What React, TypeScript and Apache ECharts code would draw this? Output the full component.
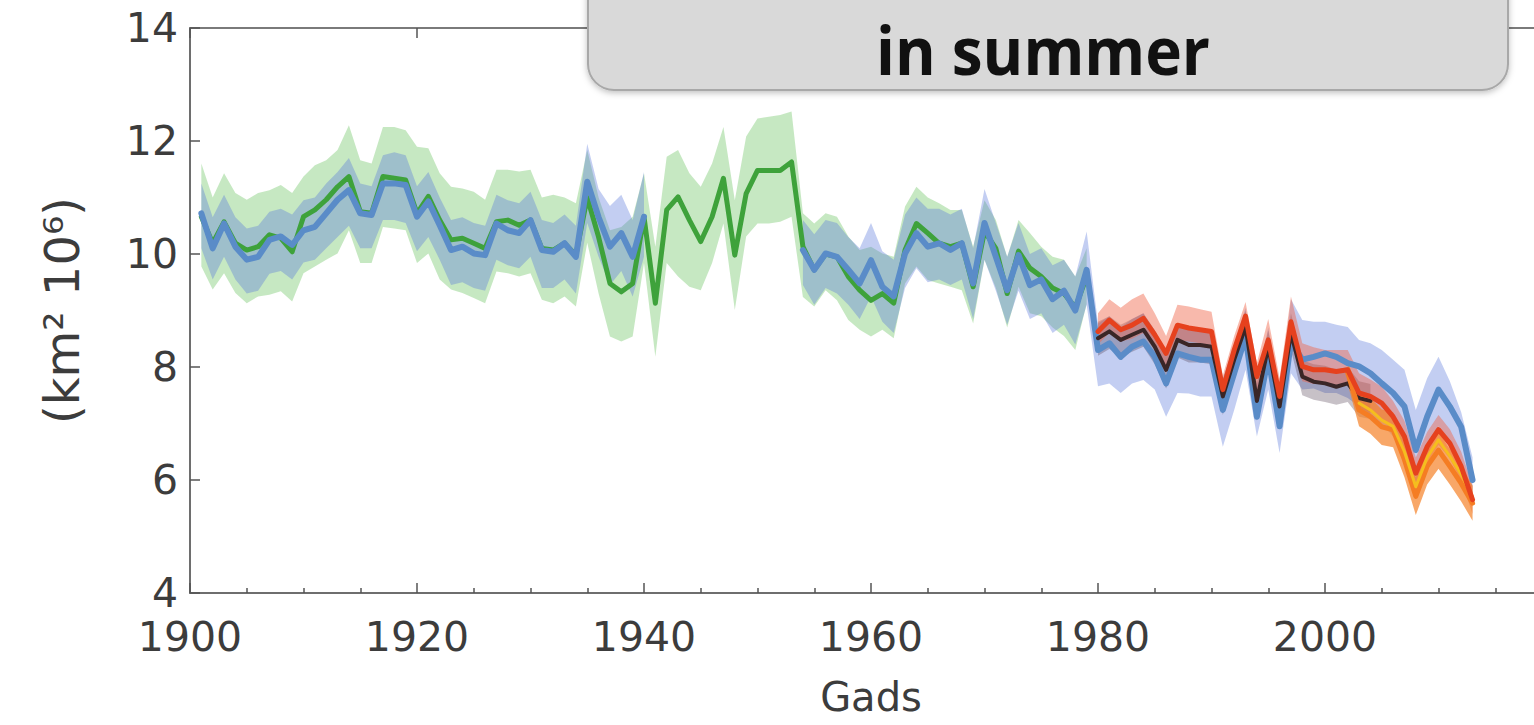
import React, { useEffect, useRef } from "react";
import * as echarts from "echarts";

// First year of each record
const BLUE_START = 1901;
const GREEN_START = 1901;
const SAT_START = 1980;
const ORANGE_START = 2002;
const YELLOW_START = 2003;

// Blue reconstruction (1901-2013), gap 1941-1953
const blueMean = [
  10.72, 10.1, 10.54, 10.13, 9.9, 9.95, 10.25, 10.31, 10.16, 10.42,
  10.48, 10.72, 10.96, 11.13, 10.72, 10.69, 11.25, 11.25, 11.22, 10.66,
  10.93, 10.51, 10.07, 10.13, 10.01, 9.98, 10.54, 10.42, 10.37, 10.6,
  10.07, 10.04, 10.19, 9.95, 11.28, 10.65, 10.13, 10.37, 9.95, 10.66,
  null, null, null, null, null, null, null, null, null, null, null, null, null,
  10.07, 9.72, 10.01, 9.95, 9.72, 9.48, 9.89, 9.42, 9.25, 10.01,
  10.37, 10.13, 10.19, 10.07, 10.19, 9.48, 10.55, 9.95, 9.36, 9.98,
  9.45, 9.55, 9.2, 9.35, 9.0, 9.72, 8.3, 8.42, 8.18, 8.36,
  8.45, 8.18, 7.71, 8.24, 8.18, 8.13, 8.13, 7.24, 7.89, 8.54,
  7.12, 8.18, 6.95, 8.45, 8.13, 8.18, 8.24, 8.18, 8.07, 8.01,
  7.89, 7.71, 7.54, 7.3, 6.53, 7.12, 7.6, 7.3, 6.94, 6.0,
];
const blueHigh = [
  11.25, 10.65, 11.05, 10.65, 10.45, 10.5, 10.75, 10.8, 10.7, 10.95,
  11.0, 11.25, 11.45, 11.7, 11.25, 11.2, 11.75, 11.8, 11.75, 11.2,
  11.45, 11.0, 10.6, 10.65, 10.55, 10.5, 11.05, 10.95, 10.9, 11.1,
  10.6, 10.55, 10.7, 10.5, 11.95, 11.15, 10.85, 11.05, 10.6, 11.45,
  null, null, null, null, null, null, null, null, null, null, null, null, null,
  10.6, 10.35, 10.6, 10.55, 10.3, 10.1, 10.55, 10.05, 9.9, 10.7,
  11.0, 10.8, 10.8, 10.7, 10.8, 10.1, 11.15, 10.55, 9.95, 10.55,
  10.0, 10.1, 9.8, 9.9, 9.6, 10.4, 8.77, 8.9, 8.7, 8.85,
  8.95, 8.65, 8.25, 8.75, 8.7, 8.65, 8.65, 7.8, 8.4, 9.05,
  7.7, 8.7, 7.5, 9.2, 8.83, 8.8, 8.8, 8.75, 8.71, 8.48,
  8.42, 8.3, 8.13, 7.95, 7.24, 7.8, 8.18, 7.75, 7.2, 6.4,
];
const blueLow = [
  10.1, 9.55, 9.95, 9.55, 9.3, 9.35, 9.65, 9.7, 9.55, 9.85,
  9.9, 10.1, 10.3, 10.5, 10.1, 10.1, 10.6, 10.6, 10.55, 10.05,
  10.3, 9.9, 9.45, 9.5, 9.4, 9.35, 9.9, 9.8, 9.75, 9.95,
  9.4, 9.4, 9.55, 9.3, 10.55, 9.95, 9.45, 9.7, 9.25, 9.95,
  null, null, null, null, null, null, null, null, null, null, null, null, null,
  9.45, 9.1, 9.4, 9.3, 9.1, 8.85, 9.25, 8.8, 8.6, 9.4,
  9.75, 9.5, 9.55, 9.45, 9.55, 8.85, 9.9, 9.35, 8.75, 9.35,
  8.85, 8.95, 8.6, 8.75, 8.4, 9.1, 7.66, 7.71, 7.54, 7.71,
  7.77, 7.6, 7.12, 7.54, 7.53, 7.48, 7.48, 6.59, 7.24, 7.95,
  6.77, 7.6, 6.48, 7.89, 7.6, 7.62, 7.54, 7.54, 7.45, 7.3,
  7.12, 7.0, 6.77, 6.53, 5.75, 6.4, 6.95, 6.6, 6.3, 5.6,
];

// Green reconstruction (1901-1979)
const greenMean = [
  10.66, 10.19, 10.57, 10.19, 10.07, 10.13, 10.34, 10.28, 10.04, 10.66,
  10.78, 10.96, 11.19, 11.37, 10.75, 10.72, 11.37, 11.34, 11.31, 10.72,
  11.02, 10.6, 10.25, 10.28, 10.19, 10.1, 10.57, 10.6, 10.51, 10.6,
  10.1, 10.07, 10.19, 9.98, 11.0, 10.3, 9.48, 9.33, 9.48, 10.66,
  9.13, 10.78, 11.01, 10.6, 10.22, 10.66, 11.34, 9.98, 11.07, 11.48,
  11.48, 11.48, 11.63, 10.13, 9.72, 10.0, 9.95, 9.6, 9.36, 9.18,
  9.3, 9.13, 10.07, 10.54, 10.37, 10.19, 10.13, 10.19, 9.42, 10.4,
  10.1, 9.3, 10.05, 9.75, 9.6, 9.4, 9.3, 9.05, 9.6,
];
const greenHigh = [
  11.6, 11.0, 11.43, 11.08, 10.96, 11.08, 11.13, 11.22, 11.08, 11.37,
  11.57, 11.66, 11.84, 12.28, 11.66, 11.6, 12.25, 12.25, 12.19, 11.9,
  11.87, 11.43, 11.19, 11.16, 11.1, 10.96, 11.49, 11.49, 11.46, 11.49,
  11.0, 11.05, 11.0, 10.9, 11.84, 11.0, 10.42, 10.48, 10.66, 11.43,
  10.13, 11.72, 11.84, 11.43, 11.19, 11.6, 12.25, 10.95, 12.08, 12.4,
  12.43, 12.46, 12.52, 10.72, 10.54, 10.72, 10.66, 10.31, 10.07, 10.13,
  10.01, 9.95, 10.84, 11.19, 11.0, 10.9, 10.78, 10.78, 10.13, 10.95,
  10.6, 9.95, 10.6, 10.37, 10.13, 9.95, 9.9, 9.6, 10.1,
];
const greenLow = [
  9.78, 9.37, 9.66, 9.31, 9.13, 9.25, 9.28, 9.34, 9.16, 9.66,
  9.78, 9.9, 10.01, 10.42, 9.84, 9.84, 10.48, 10.45, 10.42, 9.84,
  10.01, 9.55, 9.37, 9.31, 9.22, 9.13, 9.69, 9.66, 9.6, 9.66,
  9.19, 9.13, 9.25, 9.07, 10.2, 9.3, 8.54, 8.45, 8.54, 9.84,
  8.18, 9.84, 9.6, 9.42, 9.36, 9.84, 10.54, 9.01, 10.31, 10.54,
  10.54, 10.57, 10.66, 9.24, 9.07, 9.36, 9.18, 8.83, 8.66, 8.54,
  8.66, 8.51, 9.48, 9.78, 9.54, 9.48, 9.42, 9.36, 8.77, 9.9,
  9.4, 8.7, 9.42, 8.95, 8.9, 8.7, 8.55, 8.3, 9.12,
];

// Satellite-era records
const darkMean = [
  8.51, 8.63, 8.48, 8.57, 8.66, 8.36, 7.95, 8.48, 8.39, 8.39,
  8.36, 7.48, 8.13, 8.71, 7.4, 8.36, 7.3, 8.6, 7.83, 7.74,
  7.71, 7.65, 7.71, 7.45, 7.4,
];
const darkHigh = [
  8.8, 8.9, 8.75, 8.85, 8.95, 8.65, 8.25, 8.78, 8.68, 8.66,
  8.62, 7.78, 8.4, 9.0, 7.75, 8.65, 7.6, 8.95, 8.12, 8.05,
  8.02, 7.95, 8.0, 7.75, 7.7,
];
const darkLow = [
  8.2, 8.32, 8.18, 8.27, 8.36, 8.05, 7.62, 8.17, 8.08, 8.08,
  8.05, 7.15, 7.82, 8.4, 7.05, 8.05, 6.98, 8.3, 7.5, 7.42,
  7.38, 7.33, 7.38, 7.12, 7.08,
];
const redMean = [
  8.63, 8.83, 8.66, 8.74, 8.86, 8.57, 8.24, 8.74, 8.69, 8.66,
  8.63, 7.6, 8.3, 8.9, 7.83, 8.48, 7.48, 8.8, 8.01, 7.95,
  7.95, 7.92, 7.95, 7.54, 7.48, 7.36, 7.12, 6.77, 6.12, 6.59,
  6.89, 6.65, 6.24, 5.65,
];
const redHigh = [
  8.95, 9.2, 9.05, 9.2, 9.3, 8.95, 8.55, 9.1, 9.07, 9.02,
  8.98, 7.85, 8.55, 9.15, 8.07, 8.85, 7.8, 9.25, 8.42, 8.35,
  8.3, 8.3, 8.3, 7.89, 7.78, 7.65, 7.4, 7.05, 6.4, 6.85,
  7.15, 6.9, 6.5, 5.9,
];
const redLow = [
  8.4, 8.6, 8.45, 8.5, 8.6, 8.3, 7.98, 8.48, 8.45, 8.42,
  8.38, 7.35, 8.05, 8.62, 7.55, 8.2, 7.2, 8.45, 7.75, 7.7,
  7.7, 7.67, 7.7, 7.28, 7.2, 7.08, 6.85, 6.5, 5.85, 6.3,
  6.62, 6.38, 5.98, 5.4,
];
const orangeMean = [7.9, 7.24, 7.12, 6.94, 6.89, 6.36, 5.71, 6.24, 6.53, 6.24, 5.94, 5.59];
const orangeHigh = [8.1, 7.55, 7.45, 7.25, 7.2, 6.7, 6.05, 6.55, 6.85, 6.55, 6.25, 5.9];
const orangeLow = [7.7, 6.95, 6.82, 6.62, 6.58, 6.05, 5.38, 5.92, 6.2, 5.92, 5.62, 5.28];
const yellowMean = [7.36, 7.24, 7.06, 6.95, 6.5, 5.88, 6.4, 6.71, 6.42, 6.1, 5.7];

// Axis ticks
const xTicks = { min: 1900, max: 2020, step: 20 };
const yTicks = { min: 4, max: 14, step: 2 };

const FONT = '"DejaVu Sans", "Liberation Sans", sans-serif';
const TEXT_COLOR = "#3c3c3c";

type Num = number | null;

function pairs(start: number, values: Num[]) {
  return values.map((v, i) => [start + i, v]);
}

function lineSeries(name: string, start: number, values: Num[], color: string, width: number, z: number) {
  return {
    type: "line",
    name,
    data: pairs(start, values),
    xAxisIndex: 0,
    yAxisIndex: 0,
    symbol: "none",
    showSymbol: false,
    connectNulls: false,
    silent: true,
    z,
    lineStyle: { color, width, cap: "round", join: "round" },
    emphasis: { disabled: true },
  };
}

// Uncertainty envelope drawn as one polygon per unbroken run of years
function bandSeries(name: string, start: number, low: Num[], high: Num[], fill: string, z: number) {
  const segments: number[][] = [];
  let current: number[] | null = null;
  low.forEach((v, i) => {
    if (v == null || high[i] == null) {
      current = null;
      return;
    }
    if (!current) {
      current = [];
      segments.push(current);
    }
    current.push(i);
  });
  return {
    type: "custom",
    name,
    xAxisIndex: 0,
    yAxisIndex: 0,
    silent: true,
    z,
    data: segments.map((seg) => [start + seg[0], low[seg[0]]]),
    renderItem: (params: any, api: any) => {
      const seg = segments[params.dataIndex];
      const top = seg.map((i) => api.coord([start + i, high[i]]));
      const bottom = seg
        .slice()
        .reverse()
        .map((i) => api.coord([start + i, low[i]]));
      return {
        type: "polygon",
        shape: { points: top.concat(bottom) },
        style: { fill, stroke: null },
      };
    },
  };
}

const tickLine = { color: "#555555", width: 1.5 };

const option = {
  animation: false,
  backgroundColor: "#ffffff",
  textStyle: { fontFamily: FONT },
  grid: { left: 190, top: 28, right: -18, bottom: 132, show: false, outerBoundsMode: "none" },
  xAxis: [
    {
      type: "value",
      position: "bottom",
      min: xTicks.min,
      max: xTicks.max,
      interval: xTicks.step,
      axisLine: { show: true, onZero: false, lineStyle: { color: "#6e6e6e", width: 2 } },
      axisTick: { show: true, inside: true, length: 10, lineStyle: tickLine },
      minorTick: { show: true, splitNumber: 4, length: 5, lineStyle: tickLine },
      splitLine: { show: false },
      axisLabel: {
        fontSize: 41,
        lineHeight: 32,
        color: TEXT_COLOR,
        margin: 28,
        fontFamily: FONT,
        formatter: (v: number) => (v >= xTicks.max ? "" : String(v)),
      },
      name: "Gads",
      nameLocation: "middle",
      nameGap: 89,
      nameTextStyle: { fontSize: 40, lineHeight: 30, color: TEXT_COLOR, fontFamily: FONT },
    },
    {
      type: "value",
      position: "top",
      min: xTicks.min,
      max: xTicks.max,
      interval: xTicks.step,
      axisLine: { show: true, onZero: false, lineStyle: { color: "#7a7a7a", width: 2 } },
      axisTick: { show: true, inside: true, length: 10, lineStyle: tickLine },
      axisLabel: { show: false },
      splitLine: { show: false },
    },
  ],
  yAxis: {
    type: "value",
    min: yTicks.min,
    max: yTicks.max,
    interval: yTicks.step,
    axisLine: { show: true, onZero: false, lineStyle: { color: "#6e6e6e", width: 2 } },
    axisTick: { show: true, inside: true, length: 10, lineStyle: tickLine },
    splitLine: { show: false },
    axisLabel: { fontSize: 41, lineHeight: 30, color: TEXT_COLOR, margin: 12, fontFamily: FONT },
    name: "(km² 10⁶)",
    nameLocation: "middle",
    nameRotate: 90,
    nameGap: 104,
    nameTextStyle: { fontSize: 48, color: TEXT_COLOR, fontFamily: FONT },
  },
  graphic: [
    {
      type: "rect",
      z: 100,
      shape: { x: 588, y: -40, width: 920, height: 130, r: 26 },
      style: {
        fill: "#d9d9d9",
        stroke: "#a8a8a8",
        lineWidth: 2,
        shadowBlur: 6,
        shadowOffsetY: 2,
        shadowColor: "rgba(0,0,0,0.25)",
      },
    },
    {
      type: "text",
      z: 101,
      x: 1043,
      y: 50,
      scaleX: 0.94,
      style: {
        text: "in summer",
        fontFamily: '"Open Sans", "Noto Sans", sans-serif',
        fontWeight: "bold",
        fontSize: 66,
        fill: "#111111",
        textAlign: "center",
        textVerticalAlign: "middle",
        align: "center",
        verticalAlign: "middle",
      },
    },
  ],
  series: [
    bandSeries("green band", GREEN_START, greenLow, greenHigh, "rgba(120,200,110,0.42)", 1),
    bandSeries("blue band", BLUE_START, blueLow, blueHigh, "rgba(90,120,220,0.36)", 2),
    bandSeries("dark band", SAT_START, darkLow, darkHigh, "rgba(70,50,70,0.3)", 3),
    bandSeries("red band", SAT_START, redLow, redHigh, "rgba(240,100,70,0.45)", 4),
    bandSeries("orange band", ORANGE_START, orangeLow, orangeHigh, "rgba(245,130,40,0.7)", 5),
    lineSeries("green", GREEN_START, greenMean, "#3ea23b", 5, 10),
    lineSeries("blue", BLUE_START, blueMean, "#5a8cc8", 6, 11),
    lineSeries("dark", SAT_START, darkMean, "#3a2626", 4, 12),
    lineSeries("orange", ORANGE_START, orangeMean, "#f57d23", 5, 13),
    lineSeries("yellow", YELLOW_START, yellowMean, "#f5be1e", 3, 14),
    lineSeries("red", SAT_START, redMean, "#e6411e", 5, 15),
  ],
};

export default function App() {
  const ref = useRef<HTMLDivElement>(null);
  useEffect(() => {
    document.body.style.margin = "0";
    const chart = echarts.init(ref.current as HTMLDivElement, null, { renderer: "svg" });
    chart.setOption(option as any);
    return () => {
      chart.dispose();
    };
  }, []);
  return <div ref={ref} style={{ width: 1534, height: 725 }} />;
}
